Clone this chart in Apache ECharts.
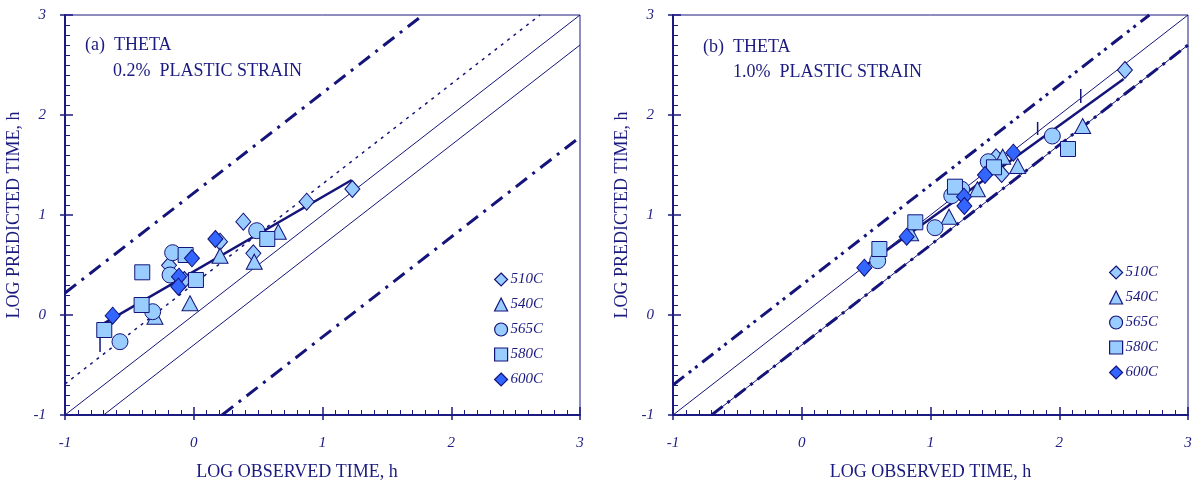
<!DOCTYPE html>
<html><head><meta charset="utf-8">
<script src="https://cdn.jsdelivr.net/npm/echarts@6/dist/echarts.min.js"></script>
<style>html,body{margin:0;padding:0;background:#fff}#c{width:1197px;height:486px}</style>
</head><body><div id="c"></div>
<script>
// ---- data ----
const seriesNames = ['510C','540C','565C','580C','600C'];
const tickValues = [-1,0,1,2,3];

// Panel (a): 0.2% plastic strain  [log observed, log predicted]
const a510 = [[1.232,1.26],[0.877,1.133],[0.385,0.933],[0.463,0.617],[0.204,0.733],[-0.192,0.497],[-0.073,0.35]];
const a540 = [[0.657,0.833],[0.204,0.593],[0.470,0.533],[-0.029,0.117],[-0.301,-0.017]];
const a565 = [[0.489,0.843],[-0.164,0.623],[-0.184,0.40],[-0.319,0.033],[-0.573,-0.267]];
const a580 = [[0.571,0.76],[-0.063,0.60],[-0.40,0.427],[0.017,0.35],[-0.405,0.10],[-0.695,-0.15]];
const a600 = [[0.168,0.76],[-0.014,0.567],[-0.115,0.383],[-0.12,0.283],[-0.63,-0.007]];

// Panel (b): 1.0% plastic strain
const b510 = [[2.51,2.45],[1.509,1.577],[1.553,1.41]];
const b540 = [[1.561,1.583],[1.677,1.49],[1.364,1.257],[1.144,0.983],[0.846,0.817],[2.182,1.89]];
const b565 = [[1.449,1.533],[1.242,1.257],[1.165,1.193],[1.035,0.873],[0.59,0.543],[1.946,1.79]];
const b580 = [[1.493,1.477],[1.19,1.283],[0.882,0.927],[0.603,0.66],[2.068,1.66]];
const b600 = [[1.643,1.623],[1.423,1.40],[1.26,1.183],[1.263,1.09],[0.815,0.783],[0.486,0.473]];

// Reference / fit lines (data coordinates)
const aUnity = [[-1,-1],[3,3]];
const aOffset = [[-0.7,-1],[3,2.7]];
const aDotted = [[-1,-0.69],[2.69,3]];
const aBandUp = [[-1,0.22],[1.78,3]];
const aBandLo = [[0.22,-1],[3,1.78]];
const aFit = [[-0.728,-0.107],[1.227,1.35]];
const aMark = [[-0.728,-0.37],[-0.728,-0.22]];

const bUnity = [[-1,-1],[3,3]];
const bBandUp = [[-1,-0.7],[2.7,3]];
const bBandLo = [[-0.7,-1],[3,2.7]];
const bFit = [[0.48,0.48],[2.5,2.36]];
const bMark1 = [[1.832,1.80],[1.832,1.93]];
const bMark2 = [[2.167,2.12],[2.167,2.26]];

// ---- styling ----
const NAVY = '#1a1a80';
const LINE = '#14147a';
const LIGHT = '#99ccff';
const DARK = '#3366ff';
const SERIF = '"Liberation Serif","Times New Roman",serif';

const symbols = {'510C':'diamond','540C':'triangle','565C':'circle','580C':'rect','600C':'diamond'};
const sizes = {'510C':[15,17],'540C':[16,15],'565C':16,'580C':15,'600C':[15,17]};
const fills = {'510C':LIGHT,'540C':LIGHT,'565C':LIGHT,'580C':LIGHT,'600C':DARK};

function scatter(name, data, idx){
  return {type:'scatter', name, data, xAxisIndex:idx, yAxisIndex:idx,
    symbol:symbols[name], symbolSize:sizes[name], z:5,
    itemStyle:{color:fills[name], borderColor:LINE, borderWidth:1, opacity:1},
    emphasis:{disabled:true}};
}
function line(data, idx, width, type, z){
  return {type:'line', data, xAxisIndex:idx, yAxisIndex:idx, showSymbol:false, silent:true,
    z:z||3, lineStyle:{color:LINE, width, type}, animation:false};
}

const grids = [
  {left:65, top:15, width:515, height:400, show:true, borderColor:NAVY, borderWidth:1},
  {left:673, top:15, width:515, height:400, show:true, borderColor:NAVY, borderWidth:1}
];

function mainX(gi, shift){
  return {type:'value', gridIndex:gi, min:-1, max:3, interval:1,
    name:'LOG OBSERVED TIME, h', nameLocation:'middle', nameGap:48,
    nameTextStyle:{fontFamily:SERIF, fontSize:18, color:NAVY, padding:shift},
    axisLine:{onZero:false, lineStyle:{color:NAVY, width:2}},
    axisTick:{inside:true, length:8, lineStyle:{color:NAVY, width:1.5}},
    minorTick:{show:true, splitNumber:10, length:5, lineStyle:{color:NAVY, width:1}},
    axisLabel:{fontFamily:SERIF, fontStyle:'italic', fontSize:15, color:NAVY, margin:21,
      formatter:v=>tickValues.includes(v)?String(v):''},
    splitLine:{show:false}};
}
function mainY(gi){
  return {type:'value', gridIndex:gi, min:-1, max:3, interval:1,
    name:'LOG PREDICTED TIME, h', nameLocation:'middle', nameGap:42,
    nameTextStyle:{fontFamily:SERIF, fontSize:18, color:NAVY},
    axisLine:{onZero:false, lineStyle:{color:NAVY, width:2}},
    axisTick:{inside:true, length:8, lineStyle:{color:NAVY, width:1.5}},
    minorTick:{show:true, splitNumber:10, length:5, lineStyle:{color:NAVY, width:1}},
    axisLabel:{fontFamily:SERIF, fontStyle:'italic', fontSize:15, color:NAVY, margin:19,
      formatter:v=>tickValues.includes(v)?String(v):''},
    splitLine:{show:false}};
}
function outerAxis(gi, pos){
  return {type:'value', gridIndex:gi, min:-1, max:3, interval:1, position:pos,
    axisLine:{show:false, onZero:false}, axisLabel:{show:false}, splitLine:{show:false},
    axisTick:{show:true, inside:false, length:5, lineStyle:{color:NAVY, width:1.5}}};
}

const series = [];
// Panel a lines
series.push(line(aUnity,0,1,'solid'));
series.push(line(aOffset,0,1,'solid'));
series.push(line(aDotted,0,1.5,[3,5]));
series.push(line(aBandUp,0,3,[14,7,3,7]));
series.push(line(aBandLo,0,3,[14,7,3,7]));
series.push(line(aFit,0,2.5,'solid',4));
series.push(line(aMark,0,1.5,'solid',4));
// Panel b lines
series.push(line(bUnity,1,1,'solid'));
series.push(line(bBandUp,1,3,[14,6,3,5,3,6]));
series.push(line(bBandLo,1,1,'solid'));
series.push(line(bBandLo,1,3,[14,6,3,6]));
series.push(line(bFit,1,2.5,'solid',4));
series.push(line(bMark1,1,1.5,'solid',4));
series.push(line(bMark2,1,1.5,'solid',4));
// scatter
[a510,a540,a565,a580,a600].forEach((d,i)=>series.push(scatter(seriesNames[i],d,0)));
[b510,b540,b565,b580,b600].forEach((d,i)=>series.push(scatter(seriesNames[i],d,1)));

function legend(left, top){
  return {data:seriesNames.map(n=>({name:n, icon:symbols[n]==='rect'?'rect':symbols[n],
      itemStyle:{color:fills[n], borderColor:LINE, borderWidth:1.2}})),
    orient:'vertical', left, top, itemGap:10,
    itemWidth:13, itemHeight:13, selectedMode:false,
    textStyle:{fontFamily:SERIF, fontStyle:'italic', fontSize:15, color:NAVY, padding:[0,0,0,-2]}};
}

const textStyle = {fontFamily:SERIF, fontSize:18, fill:NAVY};
const option = {
  animation:false,
  grid:grids,
  xAxis:[mainX(0,[0,51,0,0]), mainX(1,[0,0,0,0]), outerAxis(0,'bottom'), outerAxis(1,'bottom')],
  yAxis:[mainY(0), mainY(1), outerAxis(0,'left'), outerAxis(1,'left')],
  legend:[legend(489,267), legend(1104,260)],
  graphic:[
    {type:'text', left:85, top:36, style:Object.assign({text:'(a)  THETA'},textStyle)},
    {type:'text', left:113, top:62, style:Object.assign({text:'0.2%  PLASTIC STRAIN'},textStyle)},
    {type:'text', left:703, top:38, style:Object.assign({text:'(b)  THETA'},textStyle)},
    {type:'text', left:733, top:63, style:Object.assign({text:'1.0%  PLASTIC STRAIN'},textStyle)}
  ],
  series
};
const chart = echarts.init(document.getElementById('c'), null, {renderer:'canvas'});
chart.setOption(option);
</script></body></html>
